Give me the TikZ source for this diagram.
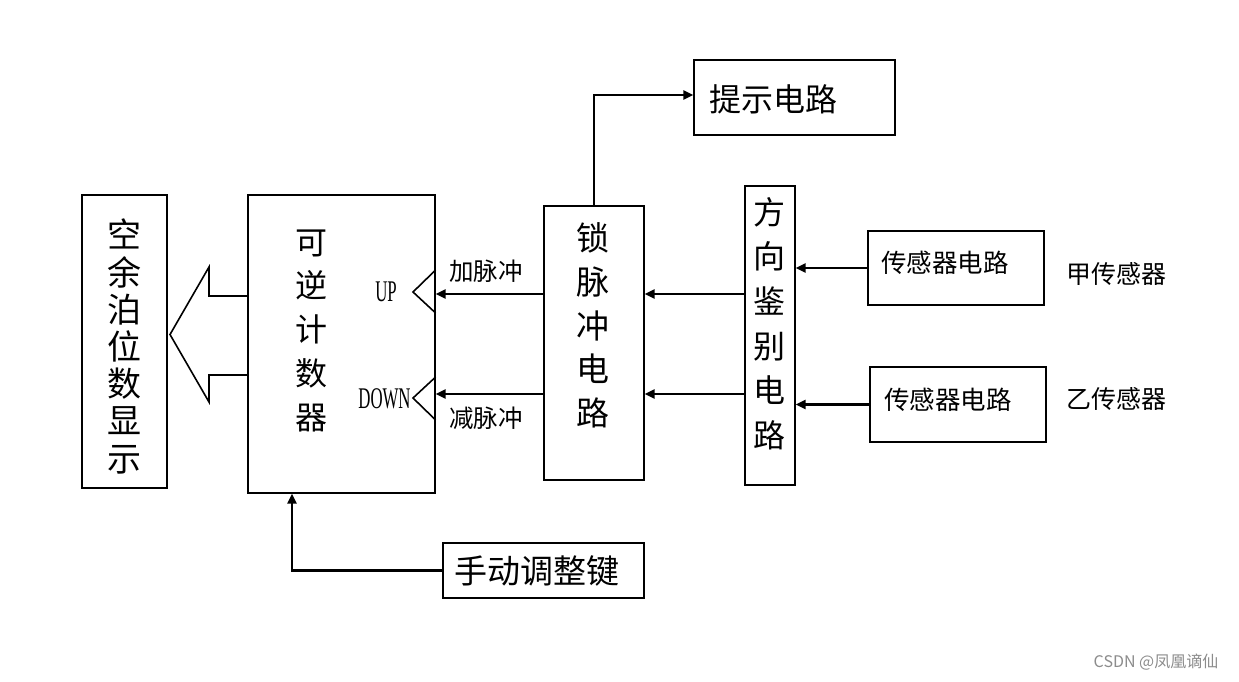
\documentclass[tikz,border=0pt]{standalone}
\usepackage{fontspec}
\newfontfamily\cjk{Noto Sans CJK SC}
\newfontfamily\cond[FakeStretch=0.56]{Liberation Serif}
\usetikzlibrary{arrows.meta}
\tikzset{
  box/.style={draw, line width=1.2pt, minimum width=#1, inner sep=0pt},
  vtext/.style 2 args={font={\cjk\fontsize{#1}{#2}\selectfont}, align=center, inner sep=0pt},
  htext/.style={font={\cjk\fontsize{#1}{#1}\selectfont}, inner sep=0pt},
  arr/.style={line width=2.3pt, -{Triangle[length=10pt,width=9pt]}},
  thinline/.style={line width=1.6pt}
}
\begin{document}
\begin{tikzpicture}[x=1pt,y=-1pt]
\useasboundingbox (0,0) rectangle (1239,681);
\fill[white] (0,0) rectangle (1239,681);
% boxes
\node[box=85pt, minimum height=293pt, line width=2.5pt] (disp) at (124.5,341.5) {};
\node[box=187pt, minimum height=298pt] (counter) at (341.5,344) {};
\node[box=100pt, minimum height=274pt] (lock) at (594,343) {};
\node[box=50pt, minimum height=299pt] (dir) at (770,335.5) {};
\node[box=176pt, minimum height=74pt] (s1) at (956,268) {};
\node[box=176pt, minimum height=75pt] (s2) at (958,404.5) {};
\node[box=201pt, minimum height=75pt] (tip) at (794.5,97.5) {};
\node[box=201pt, minimum height=55pt] (manual) at (543.5,570.5) {};
% texts
\node[vtext={34}{37.2}] (tdisp) at (124,346.5) {空\\余\\泊\\位\\数\\显\\示};
\node[vtext={32}{43.75}] (tcounter) at (311,330.5) {可\\逆\\计\\数\\器};
\node[vtext={33}{43.75}] (tlock) at (593,325.5) {锁\\脉\\冲\\电\\路};
\node[vtext={32}{44.6}] (tdir) at (769,323.5) {方\\向\\鉴\\别\\电\\路};
\node[htext=32] (ttip) at (773.5,99) {提示电路};
\node[htext=33] (tmanual) at (536.5,571) {手动调整键};
\node[htext=25.5] (ts1) at (945,263) {传感器电路};
\node[htext=25.5] (ts2) at (948,400) {传感器电路};
\node[htext=25] (tjia) at (1116,274) {甲传感器};
\node[htext=25] (tyi) at (1116.5,399) {乙传感器};
\node[htext=24.5] (tadd) at (486,271) {加脉冲};
\node[htext=24.5] (tsub) at (486,418) {减脉冲};
\node[font={\cond\fontsize{30}{30}\selectfont}, inner sep=0pt] (tup) at (386,292) {UP};
\node[font={\cond\fontsize{30}{30}\selectfont}, inner sep=0pt] (tdown) at (384.5,399) {DOWN};
\node[font={\cjk\fontsize{16}{16}\selectfont}, text=black!45, inner sep=0pt] (wm) at (1156,662) {CSDN @凤凰谪仙};
% helper coordinates
\coordinate (upy) at (0,294);
\coordinate (dny) at (0,394);
\coordinate (tipy) at (0,95);
\coordinate (mx) at (292,0);
% input notches
\draw[thinline] (counter.east |- 0,270) -- (413,292) -- (counter.east |- 0,313);
\draw[thinline] (counter.east |- 0,377) -- (413,398) -- (counter.east |- 0,420);
% hollow output arrow
\draw[thinline] (counter.west |- 0,296) -- (209,296) -- (209,267) -- (170,334.5) -- (209,402) -- (209,375) -- (counter.west |- 0,375);
% connectors
\draw[arr] (lock.west |- upy) -- (counter.east |- upy);
\draw[arr] (lock.west |- dny) -- (counter.east |- dny);
\draw[arr] (dir.west |- upy) -- (lock.east |- upy);
\draw[arr] (dir.west |- dny) -- (lock.east |- dny);
\draw[arr] (s1.west) -- (dir.east |- s1.west);
\draw[arr] (s2.west) -- (dir.east |- s2.west);
\draw[arr] (lock.north) |- (tip.west |- tipy);
\draw[arr] (manual.west) -| (mx |- counter.south);
\end{tikzpicture}
\end{document}
